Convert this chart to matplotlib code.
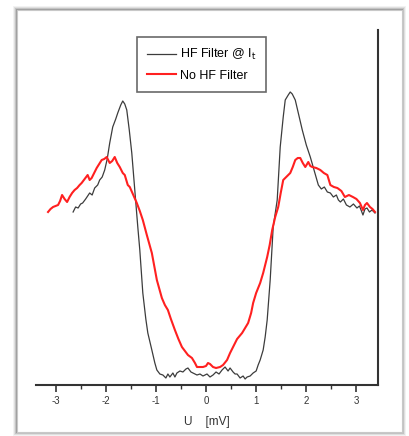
import matplotlib
matplotlib.use("Agg")
import matplotlib.pyplot as plt
from matplotlib.patches import Rectangle
from matplotlib.ticker import MultipleLocator

plt.rcParams['font.family'] = ['Liberation Sans', 'DejaVu Sans']

# HF Filter @ I_t (black)
hf_x = [-2.65, -2.60, -2.55, -2.50, -2.46, -2.40, -2.32, -2.27, -2.22, -2.16, -2.12, -2.07, -2.02,
        -1.97, -1.92, -1.86, -1.80, -1.76, -1.70, -1.66, -1.62, -1.58, -1.53, -1.48, -1.42, -1.36,
        -1.32, -1.26, -1.20, -1.16, -1.08, -1.02, -0.98, -0.92, -0.86, -0.80, -0.76, -0.72, -0.66,
        -0.62, -0.58, -0.52, -0.46, -0.40, -0.36, -0.30, -0.26, -0.18, -0.12, -0.06, 0.02, 0.08,
        0.14, 0.20, 0.26, 0.32, 0.38, 0.44, 0.48, 0.54, 0.58, 0.62, 0.68, 0.74, 0.78, 0.82, 0.88,
        0.94, 1.00, 1.04, 1.08, 1.14, 1.18, 1.22, 1.28, 1.34, 1.42, 1.48, 1.54, 1.58, 1.64, 1.68,
        1.72, 1.78, 1.85, 1.92, 2.00, 2.08, 2.16, 2.24, 2.30, 2.36, 2.42, 2.48, 2.54, 2.60, 2.64,
        2.68, 2.74, 2.80, 2.87, 2.94, 3.01, 3.06, 3.10, 3.13, 3.17, 3.21, 3.26, 3.31, 3.37]
hf_y = [173, 178, 177, 181, 182, 186, 192, 190, 197, 200, 205, 208, 215,
        226, 242, 258, 266, 272, 280, 284, 281, 275, 255, 232, 195, 158,
        135, 92, 66, 52, 35, 22, 15, 11, 10, 7, 11, 8, 12,
        8, 12, 14, 13, 16, 17, 13, 12, 10, 11, 9, 11, 8,
        10, 13, 11, 15, 18, 14, 17, 13, 11, 11, 7, 9, 6, 8, 9,
        12, 14, 20, 25, 35, 48, 65, 105, 158, 185, 238, 268, 285, 290, 293,
        291, 285, 270, 255, 240, 228, 214, 200, 196, 198, 193, 192, 188, 190, 185,
        183, 186, 180, 178, 181, 177, 179, 174, 170, 176, 177, 173, 175, 172]

# No HF Filter (red)
nf_x = [-3.15, -3.10, -3.05, -2.95, -2.91, -2.87, -2.82, -2.77, -2.72, -2.67, -2.62, -2.57, -2.52,
        -2.48, -2.42, -2.36, -2.32, -2.28, -2.23, -2.18, -2.13, -2.08, -2.03, -1.98, -1.92, -1.87,
        -1.82, -1.77, -1.72, -1.66, -1.62, -1.56, -1.52, -1.45, -1.38, -1.32, -1.26, -1.18, -1.08,
        -0.98, -0.88, -0.82, -0.76, -0.70, -0.62, -0.55, -0.48, -0.42, -0.36, -0.28, -0.22, -0.18,
        -0.12, -0.06, 0.00, 0.04, 0.08, 0.14, 0.20, 0.28, 0.34, 0.42, 0.48, 0.54, 0.62, 0.72, 0.78,
        0.84, 0.90, 0.94, 1.00, 1.08, 1.14, 1.22, 1.27, 1.32, 1.38, 1.44, 1.49, 1.54, 1.60, 1.68,
        1.73, 1.78, 1.83, 1.88, 1.93, 1.98, 2.04, 2.08, 2.12, 2.20, 2.28, 2.35, 2.42, 2.48, 2.55,
        2.62, 2.70, 2.77, 2.85, 2.93, 3.00, 3.07, 3.13, 3.17, 3.21, 3.27, 3.32, 3.37]
nf_y = [173, 176, 178, 180, 184, 190, 186, 183, 188, 192, 195, 197, 200,
        202, 206, 210, 205, 207, 212, 217, 221, 225, 226, 228, 222, 224,
        228, 222, 218, 212, 210, 200, 198, 190, 182, 174, 165, 150, 132,
        105, 87, 80, 75, 66, 55, 46, 38, 34, 30, 27, 22, 18,
        18, 18, 19, 22, 21, 18, 17, 18, 20, 25, 32, 38, 46, 52, 57,
        62, 72, 82, 92, 102, 112, 128, 140, 155, 168, 178, 192, 205, 208, 212,
        218, 225, 227, 227, 222, 218, 223, 219, 218, 217, 215, 212, 210, 200, 198,
        197, 194, 188, 190, 188, 186, 182, 175, 180, 182, 178, 176, 173]

xticks = [-3, -2, -1, 0, 1, 2, 3]
xtick_labels = ['-3', '-2', '-1', '0', '1', '2', '3']

W, H = 410, 436
fig = plt.figure(figsize=(W / 100, H / 100), dpi=100)
fig.patch.set_facecolor('white')

# card frame with soft shadow
for i, a in enumerate([0.05, 0.08, 0.12, 0.18]):
    d = 4 - i
    fig.patches.append(Rectangle(((17 - d) / W, (H - 432 - d) / H), (385 + 2 * d) / W, (422 + 2 * d) / H,
                                 transform=fig.transFigure, facecolor='black', alpha=a,
                                 edgecolor='none', zorder=0))
fig.patches.append(Rectangle((17 / W, (H - 432) / H), 385 / W, 422 / H,
                             transform=fig.transFigure, facecolor='white',
                             edgecolor='#c8c8c8', linewidth=0.8, zorder=1))

ax = fig.add_axes([36 / W, (H - 385) / H, (378 - 36) / W, (385 - 30) / H])
ax.set_facecolor('none')
ax.set_zorder(2)

ax.plot(hf_x, hf_y, color='#3c3c3c', lw=0.9, label='HF Filter @ I$_{\\mathrm{t}}$')
ax.plot(nf_x, nf_y, color='#ff2020', lw=1.5, label='No HF Filter')

ax.set_xlim(-3.39, 3.43)
ax.set_ylim(0, 355)

ax.spines['left'].set_visible(False)
ax.spines['top'].set_visible(False)
for s in ['bottom', 'right']:
    ax.spines[s].set_color('#333333')
    ax.spines[s].set_linewidth(1.5)

ax.set_yticks([])
ax.set_xticks(xticks)
ax.set_xticklabels(xtick_labels, fontsize=7, color='#333333')
ax.xaxis.set_minor_locator(MultipleLocator(0.5))
ax.tick_params(axis='x', which='major', direction='out', length=5, width=1.2, color='#333333', pad=3)
ax.tick_params(axis='x', which='minor', direction='out', length=3, width=1.0, color='#333333')
ax.set_xlabel('U    [mV]', fontsize=8.5, color='#333333', labelpad=7)

leg = ax.legend(loc='upper left', bbox_to_anchor=(137 / W, (H - 37) / H),
                bbox_transform=fig.transFigure, fontsize=9, frameon=True, fancybox=False,
                handlelength=2.3, handletextpad=0.3, borderpad=0.8, labelspacing=0.6,
                borderaxespad=0)
leg.get_frame().set_edgecolor('#444444')
leg.get_frame().set_linewidth(1.2)

fig.savefig('out.png', dpi=100)
